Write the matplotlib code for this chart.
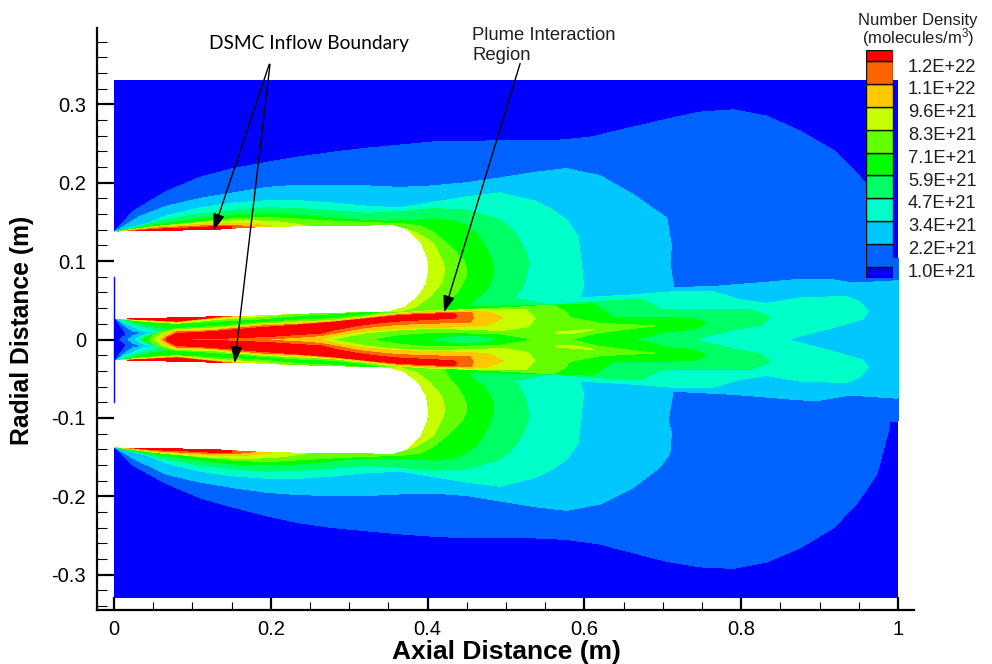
import numpy as np
import matplotlib
matplotlib.use("Agg")
import matplotlib.pyplot as plt
#----------------------------------------------------------
# contour level colours, low to high
c1, c2, c3, c4, c5, c6, c7, c8, c9, c10, c11 = ("#0000ff", "#0063ff", "#00c8ff", "#00ffc8", "#00ff64",
                                                 "#00ff00", "#64ff00", "#c8ff00", "#ffc800", "#ff6400", "#ff0000")
level_labels = ["1.0E+21", "2.2E+21", "3.4E+21", "4.7E+21", "5.9E+21",
                "7.1E+21", "8.3E+21", "9.6E+21", "1.1E+22", "1.2E+22"]
xtick_vals = [0, 0.2, 0.4, 0.6, 0.8, 1]
xtick_text = ["0", "0.2", "0.4", "0.6", "0.8", "1"]
ytick_vals = [-0.3, -0.2, -0.1, 0, 0.1, 0.2, 0.3]
ytick_text = ["-0.3", "-0.2", "-0.1", "0", "0.1", "0.2", "0.3"]

domain_x = [0, 1, 1, 0]
domain_r = [-0.330, -0.330, 0.331, 0.331]

# outer contours, not mirrored (upper and lower differ a bit)
l2_top_x = [0, .025, .067, .110, .152, .195, .237, .280, .322, .365, .407, .450, .492, .565, .607, .662, .705, .747, .790, .832, .875, .918, .943, .958, .977, .994, 1]
l2_top_r = [.137, .164, .189, .207, .218, .226, .233, .239, .244, .248, .252, .252, .254, .254, .258, .271, .281, .290, .293, .285, .266, .241, .217, .200, .147, .103, .103]
l2_bot_x = [0, .025, .067, .110, .152, .195, .237, .280, .322, .365, .407, .450, .492, .535, .577, .620, .662, .705, .747, .790, .832, .875, .918, .947, .973, .988, .990, 1]
l2_bot_r = [-.137, -.161, -.184, -.202, -.214, -.225, -.234, -.240, -.244, -.248, -.251, -.253, -.253, -.253, -.255, -.261, -.272, -.283, -.290, -.292, -.284, -.266, -.240, -.210, -.172, -.116, -.104, -.104]
l3_top_x = [0, .033, .067, .110, .152, .195, .237, .280, .322, .365, .407, .450, .492, .535, .577, .620, .662, .705, .711, .709, .714, .769, .832, .866, .918, .943, 1]
l3_top_r = [.137, .157, .170, .180, .187, .194, .197, .197, .196, .194, .196, .200, .206, .213, .218, .209, .185, .155, .119, .098, .066, .068, .073, .076, .076, .072, .075]
l3_bot_x = [0, .025, .067, .110, .152, .195, .237, .280, .322, .365, .407, .450, .492, .535, .577, .620, .662, .696, .709, .711, .707, .713, .790, .875, .896, .939, 1]
l3_bot_r = [-.137, -.152, -.172, -.182, -.189, -.195, -.198, -.199, -.199, -.197, -.196, -.199, -.206, -.213, -.218, -.210, -.189, -.163, -.146, -.120, -.103, -.066, -.070, -.077, -.078, -.071, -.075]

# the inner contours are close to symmetric: upper half only, mirrored when drawn
l4_x = [0, .046, .067, .110, .152, .195, .237, .280, .322, .365, .407, .450, .492, .535, .558, .577, .592, .596, .599, .594, .662, .714, .764, .798, .832, .875, .934, .951, .962, .955, .920, .864]
l4_r = [.137, .149, .158, .168, .174, .177, .177, .174, .170, .168, .175, .182, .187, .177, .166, .153, .132, .098, .068, .053, .057, .061, .061, .051, .046, .053, .055, .048, .036, .026, .016, .0015]
l5_x = [0, .067, .110, .152, .195, .237, .280, .322, .365, .407, .450, .492, .505, .514, .524, .529, .527, .522, .511, .556, .616, .671, .701, .748, .811, .837, .826, .790, .745]
l5_r = [.137, .153, .160, .165, .168, .167, .164, .161, .163, .167, .165, .153, .143, .132, .115, .100, .083, .068, .053, .044, .0485, .0515, .038, .038, .0387, .0284, .0186, .0122, .0015]
l6_x = [0, .046, .088, .131, .173, .216, .259, .301, .344, .386, .407, .435, .450, .462, .471, .479, .484, .483, .478, .470, .458, .452, .5625, .6114, .637, .688, .739, .756, .739, .705, .665]
l6_r = [.137, .145, .151, .157, .160, .160, .157, .153, .151, .152, .154, .151, .1447, .135, .123, .108, .0934, .080, .068, .058, .0506, .042, .044, .0455, .0284, .0284, .0267, .0207, .013, .010, 0]
l7_x = [0, .067, .110, .152, .195, .237, .280, .322, .365, .390, .408, .424, .436, .445, .450, .449, .445, .438, .428, .420, .458, .514, .560, .575, .582, .620, .690, .663, .614, .584]
l7_r = [.137, .1455, .150, .154, .156, .1534, .151, .149, .148, .145, .136, .123, .112, .102, .091, .081, .072, .060, .050, .035, .0387, .0412, .044, .036, .028, .0207, .0173, .0143, .0079, 0]

# low density gap between the inner lip and the centre jet, drawn high to low
gap6_x = [0, .037, .08, .122, .186, .237, .28, .322, .35, .35]
gap6_r = [.027, .0214, .0197, .0214, .0248, .0295, .0314, .0344, .0365, 0]
gap5_x = [0, .02, .037, .06, .069, .069]
gap5_r = [.027, .0235, .0183, .0145, .012, 0]
gap4_x = [0, .015, .037, .05, .058, .058]
gap4_r = [.027, .0215, .015, .012, .008, 0]
gap3_x = [0, .012, .03, .042, .045]
gap3_r = [.027, .020, .012, .007, 0]
gap2_x = [0, .01, .022, .03, .03]
gap2_r = [.027, .018, .010, .004, 0]
gap1_x = [0, .006, .012, .015, .013]
gap1_r = [.027, .017, .010, .003, 0]

# centre jet, low to high
jet2_x = [.007, .012, .02, .03, .03]
jet2_r = [0, .004, .007, .009, 0]
jet3_x = [.018, .024, .032, .04, .05, .05]
jet3_r = [0, .0045, .0075, .009, .009, 0]
jet4_x = [.028, .032, .04, .05, .06, .06]
jet4_r = [0, .003, .0065, .009, .0105, 0]
jet5_x = [.033, .04, .05, .06, .07, .07]
jet5_r = [0, .0045, .007, .0095, .012, 0]
jet6_x = [.037, .045, .055, .07, .08, .08]
jet6_r = [0, .004, .0075, .0115, .014, 0]
jet7_x = [.044, .05, .065, .08, .122, .186, .237, .28, .322, .35, .36, .36]
jet7_r = [0, .006, .0115, .0141, .0162, .0214, .025, .0265, .0314, .036, .037, 0]
jet8_x = [.052, .06, .07, .08, .122, .186, .237, .28, .322, .35, .40, .45, .4966, .5264, .537, .5285, .4966, .45, .4073, .365, .322, .2776]
jet8_r = [0, .0065, .0105, .0128, .0141, .0197, .0225, .0246, .0295, .033, .0365, .038, .0378, .0378, .0271, .0165, .0115, .013, .0143, .0125, .0085, 0]
jet9_x = [.058, .065, .075, .08, .122, .186, .237, .28, .322, .365, .40, .456, .475, .4966, .4795, .4562, .365, .322, .288, .2627]
jet9_r = [0, .006, .0095, .0111, .012, .0185, .021, .0237, .028, .033, .0355, .0365, .0357, .028, .0186, .0165, .0143, .0109, .0066, 0]
jet10_x = [.062, .07, .08, .122, .186, .237, .28, .322, .365, .40, .433, .456, .4583, .454, .4285, .365, .344, .3137, .28, .2627, .237, .20, .20]
jet10_r = [0, .005, .0098, .0111, .0171, .0194, .0225, .027, .0318, .0335, .0345, .0348, .028, .0215, .0215, .0194, .0177, .0143, .0079, .0049, .003, .001, 0]
jet11_x = [.067, .08, .122, .186, .237, .28, .322, .365, .40, .433, .437, .433, .365, .344, .31, .28, .2627, .237, .20, .15, .10]
jet11_r = [.0012, .0077, .0098, .015, .0186, .022, .0263, .0306, .032, .0335, .030, .0271, .0237, .022, .0177, .0122, .0079, .0066, .004, .002, .001]

island6_x = [.335, .365, .4073, .45, .4924, .5285]
island6_r = [0, .0049, .0079, .0071, .0058, 0]
island5_x = [.4073, .437, .4626, .4838]
island5_r = [0, .0036, .0036, 0]
streak_x = [.5625, .586, .6135, .586, .5625]
streak_r = [.0092, .0113, .013, .0079, .0079]

# thin hot strips on the inner lip (closed under the white nozzle)
lip8_x = [0, .037, .08, .122, .186, .22, .22, 0]
lip8_r = [.027, .0235, .0205, .0248, .029, .0325, .04, .04]
lip9_x = [.002, .04, .08, .122, .165, .19, .19, .002]
lip9_r = [.027, .0245, .022, .0265, .030, .033, .04, .04]
lip10_x = [.005, .04, .08, .122, .155, .17, .17, .005]
lip10_r = [.027, .025, .0228, .0272, .0305, .033, .04, .04]
lip11_x = [.0077, .04, .08, .122, .135, .14, .14, .0077]
lip11_r = [.027, .0255, .0235, .0278, .0295, .031, .04, .04]

# thin hot strips on the outer wall (closed under the white nozzle)
wall8_x = [0, .05, .12, .17, .21, .245, .245, 0]
wall8_r = [.137, .144, .150, .152, .150, .1455, .13, .13]
wall9_x = [0, .05, .127, .16, .20, .20, 0]
wall9_r = [.137, .143, .148, .1485, .145, .13, .13]
wall10_x = [.005, .06, .127, .155, .18, .18, .005]
wall10_r = [.137, .1425, .1455, .1455, .143, .13, .13]
wall11_x = [.012, .05, .09, .127, .15, .15, .012]
wall11_r = [.137, .1405, .142, .1438, .1435, .13, .13]

# yellow crescent round the nozzle end
cres8_x = [.365, .384, .407, .420, .422, .418, .403, .386, .365, .34, .34]
cres8_r = [.1425, .137, .123, .0976, .089, .072, .055, .042, .036, .036, .14]

# nozzle, no data inside
noz_x = [0, .127, .173, .246, .356, .373, .390, .399, .400, .397, .386, .369, .348, .237, .173, .118, 0]
noz_r = [.137, .139, .142, .144, .145, .140, .123, .102, .089, .072, .055, .042, .0365, .0335, .031, .030, .027]

inflow_r = [-0.08, 0.08]
minor_x = np.arange(0.05, 1.0, 0.05)
minor_y = np.arange(-0.34, 0.39, 0.02)
#----------------------------------------------------------
def half(ax, x, r, color):
	""" region between a contour and the axis, both sides """
	xs = list(x) + [x[-1], x[0]]
	rs = list(r) + [0, 0]
	ax.fill(xs, rs, color=color, lw=0, antialiased=False)
	ax.fill(xs, [-v for v in rs], color=color, lw=0, antialiased=False)
#----------------------------------------------------------
def one_side(ax, x, r, color):
	xs = list(x) + [x[-1], x[0]]
	rs = list(r) + [0, 0]
	ax.fill(xs, rs, color=color, lw=0, antialiased=False)
#----------------------------------------------------------
def strip(ax, x, r, color):
	ax.fill(x, r, color=color, lw=0, antialiased=False)
	ax.fill(x, [-v for v in r], color=color, lw=0, antialiased=False)
#----------------------------------------------------------
def contours(ax):
	ax.fill(domain_x, domain_r, color=c1, lw=0, antialiased=False)
	one_side(ax, l2_top_x, l2_top_r, c2)
	one_side(ax, l2_bot_x, l2_bot_r, c2)
	one_side(ax, l3_top_x, l3_top_r, c3)
	one_side(ax, l3_bot_x, l3_bot_r, c3)
	half(ax, l4_x, l4_r, c4)
	half(ax, l5_x, l5_r, c5)
	half(ax, l6_x, l6_r, c6)
	half(ax, l7_x, l7_r, c7)

	half(ax, gap6_x, gap6_r, c6)
	half(ax, gap5_x, gap5_r, c5)
	half(ax, gap4_x, gap4_r, c4)
	half(ax, gap3_x, gap3_r, c3)
	half(ax, gap2_x, gap2_r, c2)
	half(ax, gap1_x, gap1_r, c1)

	half(ax, jet2_x, jet2_r, c2)
	half(ax, jet3_x, jet3_r, c3)
	half(ax, jet4_x, jet4_r, c4)
	half(ax, jet5_x, jet5_r, c5)
	half(ax, jet6_x, jet6_r, c6)
	half(ax, jet7_x, jet7_r, c7)
	half(ax, jet8_x, jet8_r, c8)
	half(ax, jet9_x, jet9_r, c9)
	half(ax, jet10_x, jet10_r, c10)
	half(ax, jet11_x, jet11_r, c11)
	half(ax, island6_x, island6_r, c6)
	half(ax, island5_x, island5_r, c5)
	strip(ax, streak_x, streak_r, c8)

	strip(ax, lip8_x, lip8_r, c8)
	strip(ax, lip9_x, lip9_r, c9)
	strip(ax, lip10_x, lip10_r, c10)
	strip(ax, lip11_x, lip11_r, c11)
	strip(ax, wall8_x, wall8_r, c8)
	strip(ax, wall9_x, wall9_r, c9)
	strip(ax, wall10_x, wall10_r, c10)
	strip(ax, wall11_x, wall11_r, c11)
	strip(ax, cres8_x, cres8_r, c8)
	strip(ax, noz_x, noz_r, "white")

	ax.plot([0, 0], inflow_r, color=c1, lw=1)
#----------------------------------------------------------
def legend(fig):
	cax = fig.add_axes([866/992, 1-278/664, 27/992, 228/664])
	colors = [c1, c2, c3, c4, c5, c6, c7, c8, c9, c10, c11]
	edges = [-0.5] + list(range(10)) + [9.5]
	for i in range(11):
		cax.bar(0, edges[i+1]-edges[i], bottom=edges[i], width=1, color=colors[i], edgecolor="#101010", lw=1)
	cax.set_xlim(-0.5, 0.5)
	cax.set_ylim(-0.5, 9.5)
	cax.axis("off")
	for i in range(10):
		cax.text(1.55, i-0.25, level_labels[i], fontsize=13.2, color="#202020", ha="left", va="center", clip_on=False, transform=cax.get_yaxis_transform())
	fig.text(918/992, 1-20/664, "Number Density", fontsize=12, color="#202020", ha="center", va="center")
	fig.text(918/992, 1-38/664, "(molecules/m$^3$)", fontsize=12, color="#202020", ha="center", va="center")
#----------------------------------------------------------
def main():
	plt.rcParams["font.family"] = "Liberation Sans"
	plt.rcParams["mathtext.default"] = "regular"
	fig = plt.figure(figsize=(9.92, 6.64), dpi=100)
	ax = fig.add_axes([97/992, 1-610/664, (914-97)/992, (610-28)/664])
	contours(ax)

	ax.set_xlim(-0.0217, 1.0204)
	ax.set_ylim(-0.345, 0.3973)
	ax.spines["top"].set_visible(False)
	ax.spines["right"].set_visible(False)
	ax.spines["left"].set_linewidth(1.6)
	ax.spines["bottom"].set_linewidth(1.6)

	ax.set_xticks(xtick_vals)
	ax.set_xticklabels(xtick_text)
	ax.set_yticks(ytick_vals)
	ax.set_yticklabels(ytick_text)
	ax.set_xticks(minor_x, minor=True)
	ax.set_yticks(minor_y, minor=True)
	ax.tick_params(axis="x", which="major", direction="in", length=9.5, width=1.6, labelsize=14.5, pad=7)
	ax.tick_params(axis="x", which="minor", direction="in", length=5.5, width=0.8)
	ax.tick_params(axis="y", which="major", direction="in", length=12, width=1.6, labelsize=14.5, pad=8)
	ax.tick_params(axis="y", which="minor", direction="in", length=7, width=0.8)

	ax.set_xlabel("Axial Distance (m)", fontsize=19, fontweight="bold", va="center")
	ax.set_ylabel("Radial Distance (m)", fontsize=17.8, fontweight="bold", va="center")
	ax.xaxis.set_label_coords((506-97)/817, -(652-610)/582)
	ax.yaxis.set_label_coords(-(97-22)/817, (610-330)/582)

	head = dict(arrowstyle="-|>,head_length=1.0,head_width=0.35", mutation_scale=10, color="black", lw=1, shrinkA=0, shrinkB=0)
	ax.annotate("", xy=(.127, .139), xytext=(.198, .351), arrowprops=head, annotation_clip=False)
	ax.annotate("", xy=(.154, -.030), xytext=(.199, .351), arrowprops=head, annotation_clip=False)
	ax.annotate("", xy=(.421, .0348), xytext=(.518, .352), arrowprops=head, annotation_clip=False)
	fig.text(309/992, 1-43/664, "DSMC Inflow Boundary", family="Lato", fontsize=13.8, color="black", ha="center", va="center")
	fig.text(472/992, 1-36/664, "Plume Interaction", fontsize=13.3, color="#202020", ha="left", va="center")
	fig.text(472/992, 1-55/664, "Region", fontsize=13.3, color="#202020", ha="left", va="center")

	legend(fig)
	fig.savefig("out.png", dpi=100)
#----------------------------------------------------------
if __name__ == "__main__":
	main()
